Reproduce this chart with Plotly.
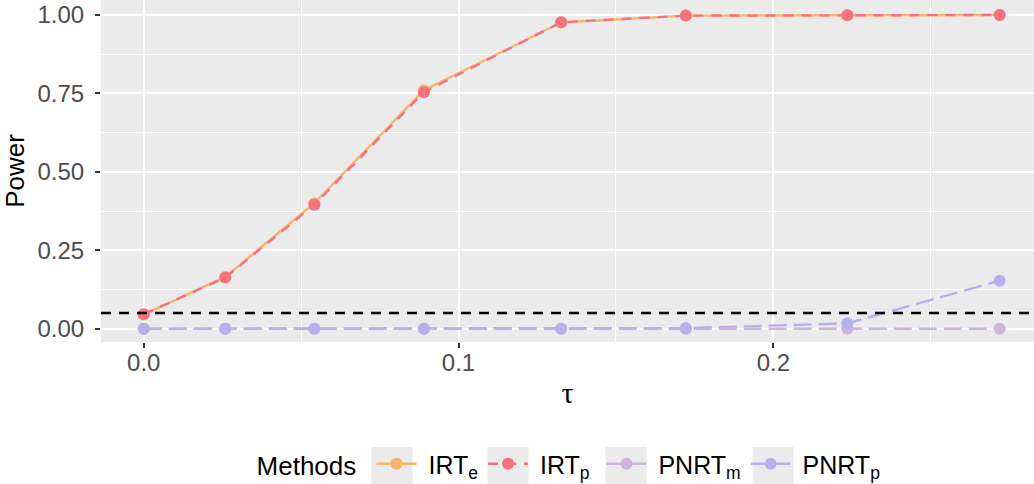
import plotly.graph_objects as go

# tau values (x) shared by all methods
tau = [0.0, 0.0259, 0.0542, 0.0890, 0.1326, 0.1722, 0.2235, 0.2719]

# estimated power per method
irt_e = [0.045, 0.165, 0.400, 0.760, 0.976, 0.998, 0.999, 1.000]
irt_p = [0.046, 0.163, 0.395, 0.754, 0.977, 0.998, 0.999, 1.000]
pnrt_m = [0.0, 0.0, 0.0, 0.0, 0.0, 0.0, 0.0, 0.0]
pnrt_p = [0.0, 0.0, 0.0, 0.0, 0.0, 0.002, 0.017, 0.153]

alpha_level = 0.05

NB = "\u00a0"
names = [NB + "IRT<sub>e</sub>", NB + "IRT<sub>p</sub>" + NB, NB + "PNRT<sub>m</sub>", NB + "PNRT<sub>p</sub>"]
colors = ["#F5B56D", "#F5737E", "#CDB4DB", "#B8B0EE"]
dashes = ["solid", "10px,8px", "18px,7px", "18px,7px"]
series = [irt_e, irt_p, pnrt_m, pnrt_p]

fig = go.Figure()
for name, col, dash, vals in zip(names, colors, dashes, series):
    fig.add_trace(go.Scatter(
        x=tau, y=vals, name=name, mode="lines+markers",
        line=dict(color=col, width=2.4, dash=dash),
        marker=dict(color=col, size=12),
    ))

# nominal significance level
fig.add_hline(y=alpha_level, line=dict(color="black", width=2.4, dash="10px,8px"))

# grey backgrounds behind the legend keys (pixel centres converted to paper units)
PLOT_L, PLOT_W, PLOT_B, PLOT_H = 101, 933, 342, 342
key_centres = [392, 508, 626, 773]
for cx in key_centres:
    fig.add_shape(
        type="rect", xref="paper", yref="paper", layer="below",
        x0=(cx - 20.5 - PLOT_L) / PLOT_W, x1=(cx + 20.5 - PLOT_L) / PLOT_W,
        y0=(PLOT_B - 447) / PLOT_H, y1=(PLOT_B - 486) / PLOT_H,
        fillcolor="#EBEBEB", line=dict(width=0),
    )

base_font = "Liberation Sans, Arial, sans-serif"

fig.update_layout(
    width=1034, height=484,
    margin=dict(l=101, r=0, t=0, b=142),
    plot_bgcolor="#EBEBEB", paper_bgcolor="white",
    font=dict(family=base_font, size=25, color="black"),
    showlegend=True,
    legend=dict(
        orientation="h", xref="container", yref="container",
        x=0.5513, xanchor="center", y=1 - 464 / 484, yanchor="middle",
        title=dict(text="Methods ", font=dict(size=26)),
        font=dict(size=25), itemwidth=40,
        bgcolor="rgba(0,0,0,0)",
    ),
)

fig.update_xaxes(
    range=[-0.01357, 0.2828], tickvals=[0.0, 0.1, 0.2], ticktext=["0.0", "0.1", "0.2"],
    showgrid=True, gridcolor="white", gridwidth=2, zeroline=False,
    ticks="outside", ticklen=5, tickwidth=2, tickcolor="#333333",
    tickfont=dict(size=24, color="#4D4D4D"), ticklabelstandoff=-6,
    minor=dict(tickvals=[0.05, 0.15, 0.25], showgrid=True, gridcolor="white", gridwidth=1),
    title=dict(text="τ", font=dict(family="Liberation Serif, DejaVu Serif, serif", size=30), standoff=7),
)
fig.update_yaxes(
    range=[-0.0424, 1.0478], tickvals=[0, 0.25, 0.5, 0.75, 1.0],
    ticktext=["0.00", "0.25", "0.50", "0.75", "1.00"],
    showgrid=True, gridcolor="white", gridwidth=2, zeroline=False,
    ticks="outside", ticklen=5, tickwidth=2, tickcolor="#333333",
    tickfont=dict(size=24, color="#4D4D4D"), ticklabelstandoff=6,
    minor=dict(tickvals=[0.125, 0.375, 0.625, 0.875], showgrid=True, gridcolor="white", gridwidth=1),
    title=dict(text="Power", font=dict(size=26), standoff=8),
)

fig.write_html("out.html")
